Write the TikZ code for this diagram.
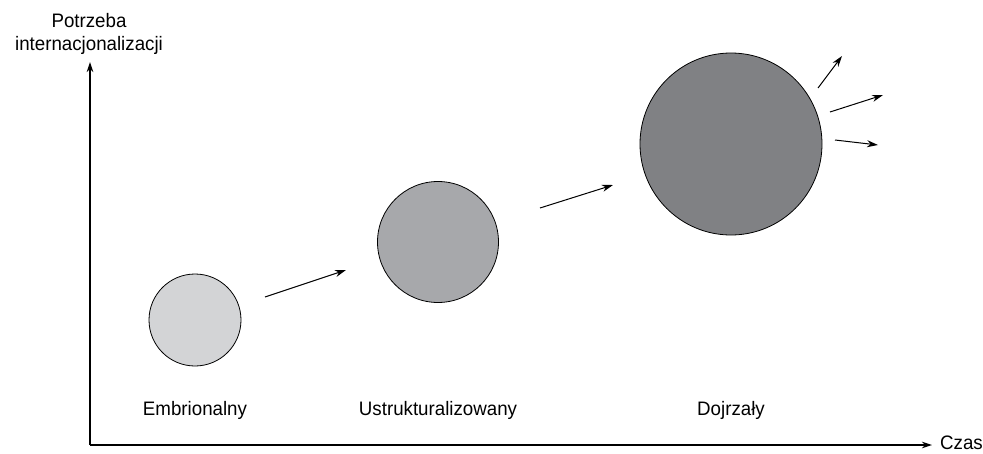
\documentclass[tikz,border=0pt]{standalone}
\usepackage{fontspec}
\setmainfont{Liberation Sans}[FakeStretch=0.96]
\usetikzlibrary{arrows.meta}
\begin{document}
\begin{tikzpicture}[x=1pt,y=-1pt,
  axis/.style={line width=1.1pt,-{Stealth[length=10pt,width=6.5pt]}},
  flow/.style={line width=1pt,-{Stealth[length=11pt,width=7pt]}},
  stage/.style={circle,draw=black,line width=0.8pt,inner sep=0pt},
  lbl/.style={font=\fontsize{19.5}{23}\selectfont,inner sep=0pt,anchor=base}]
\useasboundingbox (0,0) rectangle (983,453);
% axes
\coordinate (origin) at (90,445);
\coordinate (ytop) at (90,62);
\coordinate (xend) at (932,445);
\draw[axis] (origin) -- (ytop);
\draw[axis] (origin) -- (xend);
\node[lbl,anchor=base west] (czas) at (940,449) {Czas};
\node[lbl] (ylab1) at (89,27) {Potrzeba};
\node[lbl] (ylab2) at (89,50) {internacjonalizacji};
% stages
\node[stage,fill={rgb,255:red,211;green,212;blue,214},minimum size=92pt] (s1) at (195,320) {};
\node[stage,fill={rgb,255:red,167;green,168;blue,171},minimum size=121pt] (s2) at (438,242) {};
\node[stage,fill={rgb,255:red,128;green,129;blue,132},minimum size=182pt] (s3) at (731,144) {};
\node[lbl] (l1) at (195,415) {Embrionalny};
\node[lbl] (l2) at (438,415) {Ustrukturalizowany};
\node[lbl] (l3) at (731,415) {Dojrzały};
% transitions
\coordinate (a1s) at (265,297); \coordinate (a1e) at (346,270);
\coordinate (a2s) at (540,208); \coordinate (a2e) at (613,185);
\coordinate (b1s) at (818,88);  \coordinate (b1e) at (842,56);
\coordinate (b2s) at (830,112); \coordinate (b2e) at (883,95);
\coordinate (b3s) at (835,140); \coordinate (b3e) at (878,145);
\draw[flow] (a1s) -- (a1e);
\draw[flow] (a2s) -- (a2e);
\draw[flow] (b1s) -- (b1e);
\draw[flow] (b2s) -- (b2e);
\draw[flow] (b3s) -- (b3e);
\end{tikzpicture}
\end{document}
